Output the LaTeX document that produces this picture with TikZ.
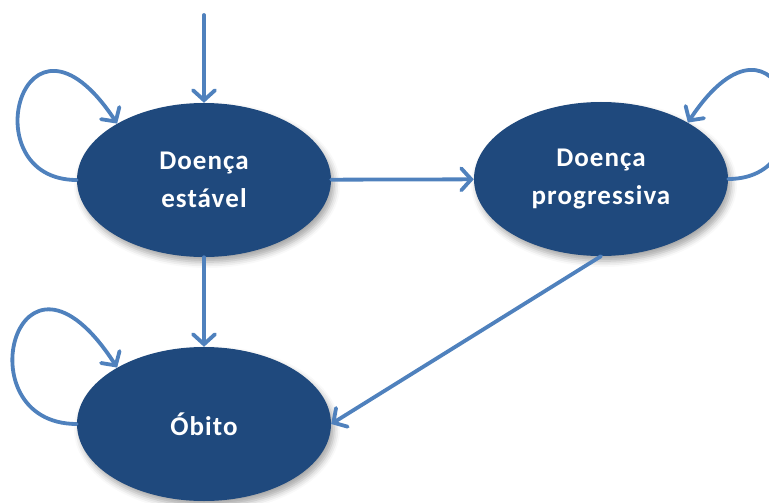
\documentclass[tikz,border=0pt]{standalone}
\usepackage{fontspec}
\setmainfont{Carlito}
\newfontfamily\lblfont[LetterSpace=4]{Carlito}
\usetikzlibrary{arrows.meta,shapes.geometric,shadows.blur}
\definecolor{nodefill}{HTML}{1F497D}
\definecolor{edgecol}{HTML}{4F81BD}
\begin{document}
\begin{tikzpicture}[x=1pt,y=-1pt,
  state/.style={ellipse, fill=nodefill, draw=none, minimum width=254pt, minimum height=154pt,
    inner sep=0pt, text=white, align=center,
    font=\lblfont\bfseries\fontsize{27}{38}\selectfont,
    blur shadow={shadow xshift=3pt, shadow yshift=-5pt, shadow blur radius=6pt, shadow opacity=35}},
  edge/.style={draw=edgecol, line width=3.8pt, line cap=round,
    -{Straight Barb[length=10pt,width=22pt,line cap=round]}}]
\useasboundingbox (0,0) rectangle (769,503);
\node[state] (A) at (204,180) {Doença\\estável};
\node[state] (B) at (601,179) {Doença\\progressiva};
\node[state] (C) at (204,424) {Óbito};
\coordinate (top) at (204,15);
\draw[edge] (top) -- (A);
\draw[edge] (A) -- (B);
\draw[edge] (A) -- (C);
\draw[edge] (B.south) -- (C.east);
\draw[edge] (A.west) .. controls +(-107,0) and +(-94,-142) .. (A.147);
\draw[edge] (B.east) .. controls +(107,0) and +(94,-142) .. (B.33);
\draw[edge] (C.west) .. controls +(-115,0) and +(-100,-155) .. (C.147);
\end{tikzpicture}
\end{document}
